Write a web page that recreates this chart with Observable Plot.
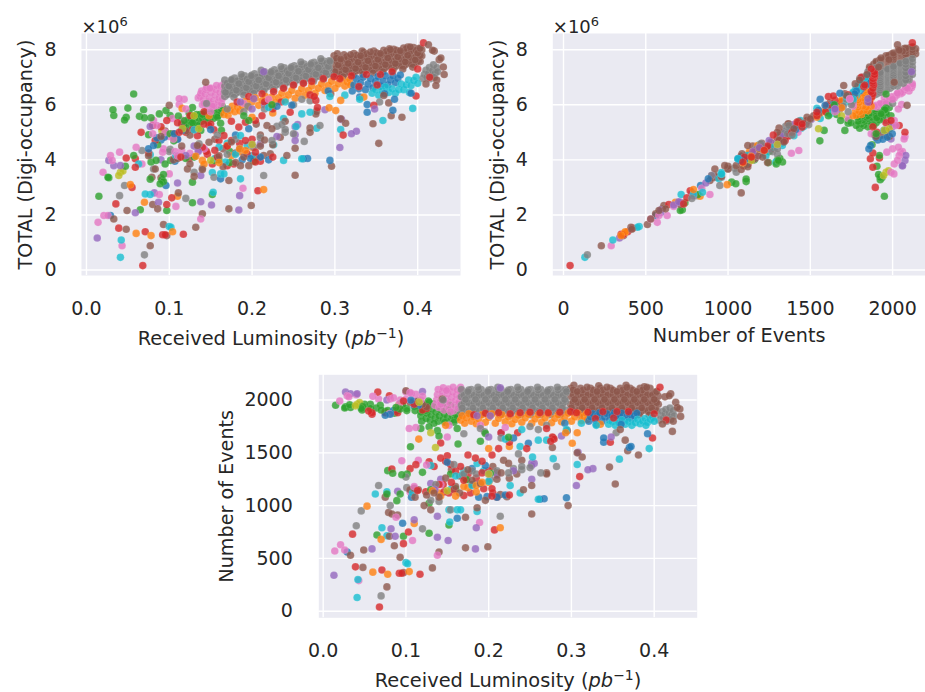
<!DOCTYPE html>
<html><head><meta charset="utf-8">
<script src="https://cdn.jsdelivr.net/npm/d3@7"></script>
<script src="https://cdn.jsdelivr.net/npm/@observablehq/plot@0.6"></script>
<style>
html,body{margin:0;padding:0;background:#fff;width:925px;height:692px;overflow:hidden;position:relative}
.p{position:absolute}
</style></head><body>
<div id="a" class="p" style="left:0;top:0"></div>
<div id="b" class="p" style="left:470px;top:0"></div>
<div id="c" class="p" style="left:210px;top:365px"></div>
<script>
// every row: [received luminosity pb^-1, number of events, TOTAL digi-occupancy x10^6]
const greenBand=[[.118,1850,5.2],[.119,1800,5.15],[.121,1900,5.35],[.122,1960,5.45],[.124,1825,5.25],[.125,1875,5.4],[.126,1940,5.5],[.127,1990,5.6],[.129,1810,5.3],[.130,1860,5.4],[.131,1915,5.55],[.133,1965,5.65],[.135,1830,5.4],[.136,1885,5.5],[.137,1945,5.65],[.139,1800,5.4],[.140,1850,5.5],[.142,1905,5.6],[.143,1960,5.7],[.145,1820,5.45],[.146,1870,5.55],[.148,1925,5.7],[.150,1840,5.55],[.151,1890,5.65],[.153,1800,5.5],[.154,1950,5.8],[.156,1850,5.6],[.157,1905,5.75],[.159,1815,5.6],[.160,1870,5.7],[.162,1835,5.7],[.163,1900,5.85],[.164,1960,5.95],[.128,1980,5.9],[.124,1900,5.7],[.134,1780,5.25],[.147,1790,5.4],[.158,1790,5.55]];
const pinkBand=[[.135,1950,6.25],[.137,2000,6.3],[.138,2050,6.4],[.139,2100,6.5],[.140,1930,6.0],[.141,1980,6.2],[.143,2030,6.4],[.144,2080,6.55],[.145,2115,6.62],[.146,1905,5.92],[.147,1960,6.1],[.148,2010,6.25],[.150,2060,6.45],[.151,2105,6.6],[.152,1925,6.0],[.153,1975,6.15],[.155,2025,6.35],[.156,2075,6.55],[.157,2120,6.7],[.158,1900,5.98],[.159,1950,6.1],[.160,2000,6.25],[.161,2050,6.45],[.162,2095,6.68],[.163,1925,6.05],[.164,1980,6.22],[.165,2030,6.42],[.166,2080,6.62],[.166,2120,6.76],[.142,1960,6.05],[.149,2090,6.6],[.154,1890,5.95]];
const brownBand=[[.299,1885,7.05],[.299,1960,7.28],[.299,2035,7.5],[.299,2110,7.78],[.305,1920,7.15],[.305,1995,7.4],[.305,2070,7.62],[.311,1885,7.12],[.311,1960,7.33],[.311,2035,7.55],[.311,2110,7.82],[.317,1920,7.22],[.317,1995,7.45],[.317,2070,7.68],[.323,1885,7.17],[.323,1960,7.38],[.323,2035,7.62],[.323,2110,7.86],[.329,1920,7.28],[.329,1995,7.5],[.329,2070,7.72],[.335,1885,7.21],[.335,1960,7.43],[.335,2035,7.66],[.335,2110,7.9],[.341,1920,7.33],[.341,1995,7.55],[.341,2070,7.78],[.347,1885,7.26],[.347,1960,7.48],[.347,2035,7.72],[.347,2110,7.95],[.353,1920,7.38],[.353,1995,7.6],[.353,2070,7.84],[.359,1885,7.31],[.359,1960,7.53],[.359,2035,7.76],[.359,2110,7.98],[.365,1920,7.44],[.365,1995,7.66],[.365,2070,7.88],[.371,1885,7.35],[.371,1960,7.58],[.371,2035,7.8],[.371,2110,8.02],[.377,1920,7.5],[.377,1995,7.72],[.377,2070,7.92],[.383,1885,7.41],[.383,1960,7.63],[.383,2035,7.85],[.383,2110,8.06],[.389,1920,7.55],[.389,1995,7.78],[.389,2070,7.98],[.395,1885,7.47],[.395,1960,7.7],[.395,2035,7.9],[.395,2110,8.08],[.401,1920,7.62],[.401,1995,7.84],[.401,2070,8.04],[.405,1960,7.78],[.405,2035,8.0],[.303,2140,7.85],[.333,2135,7.95],[.366,2140,8.03],[.388,2125,8.1]];
const brownFill=[[.302,1900,7.12],[.302,1975,7.34],[.302,2050,7.57],[.302,2095,7.69],[.308,1900,7.15],[.308,1975,7.37],[.308,2050,7.6],[.314,1900,7.18],[.314,1975,7.4],[.314,2050,7.63],[.314,2095,7.75],[.32,1900,7.2],[.32,1975,7.42],[.32,2050,7.65],[.326,1900,7.23],[.326,1975,7.45],[.326,2050,7.68],[.326,2095,7.8],[.332,1900,7.25],[.332,1975,7.47],[.332,2050,7.7],[.338,1900,7.27],[.338,1975,7.49],[.338,2050,7.72],[.338,2095,7.84],[.344,1900,7.3],[.344,1975,7.52],[.344,2050,7.75],[.35,1900,7.32],[.35,1975,7.54],[.35,2050,7.77],[.35,2095,7.89],[.356,1900,7.35],[.356,1975,7.57],[.356,2050,7.8],[.362,1900,7.37],[.362,1975,7.59],[.362,2050,7.82],[.362,2095,7.94],[.368,1900,7.39],[.368,1975,7.61],[.368,2050,7.84],[.374,1900,7.41],[.374,1975,7.63],[.374,2050,7.86],[.374,2095,7.98],[.38,1900,7.44],[.38,1975,7.66],[.38,2050,7.89],[.386,1900,7.47],[.386,1975,7.69],[.386,2050,7.92],[.386,2095,8.04],[.392,1900,7.5],[.392,1975,7.72],[.392,2050,7.95],[.398,1900,7.53],[.398,1975,7.75],[.398,2050,7.98],[.403,1900,7.57],[.403,1975,7.79]];
const brownFill2=[[.3,1925,7.2],[.304,2005,7.45],[.307,2080,7.66],[.31,1860,7.02],[.313,1925,7.28],[.316,2005,7.5],[.319,2120,7.82],[.322,1860,7.07],[.325,1925,7.32],[.328,2005,7.55],[.331,2080,7.78],[.334,1860,7.11],[.337,1925,7.36],[.34,2005,7.6],[.343,2120,7.92],[.346,1860,7.16],[.349,1925,7.41],[.352,2005,7.65],[.355,2080,7.86],[.358,1860,7.2],[.361,1925,7.46],[.364,2005,7.7],[.367,2120,8.0],[.37,1860,7.25],[.373,1925,7.5],[.376,2005,7.74],[.379,2080,7.96],[.382,1860,7.3],[.385,1925,7.56],[.388,2005,7.8],[.391,2120,8.1],[.394,1860,7.37],[.397,1925,7.63],[.4,2005,7.88],[.403,2080,8.05]];
const grayBand=[[.167,1870,6.3],[.167,1950,6.48],[.167,2030,6.68],[.167,2100,6.9],[.173,1905,6.4],[.173,1985,6.6],[.173,2065,6.78],[.179,1870,6.38],[.179,1945,6.56],[.179,2025,6.76],[.179,2100,6.97],[.185,1905,6.48],[.185,1985,6.68],[.185,2065,6.86],[.191,1870,6.46],[.191,1950,6.65],[.191,2030,6.84],[.191,2100,7.05],[.197,1905,6.55],[.197,1985,6.75],[.197,2065,6.93],[.203,1870,6.53],[.203,1945,6.72],[.203,2025,6.92],[.203,2100,7.13],[.209,1905,6.62],[.209,1985,6.82],[.209,2065,7.0],[.215,1870,6.59],[.215,1950,6.79],[.215,2030,6.98],[.215,2100,7.2],[.221,1905,6.69],[.221,1985,6.89],[.221,2065,7.08],[.227,1870,6.67],[.227,1945,6.86],[.227,2025,7.06],[.227,2100,7.27],[.233,1905,6.77],[.233,1985,6.97],[.233,2065,7.16],[.239,1870,6.75],[.239,1950,6.95],[.239,2030,7.14],[.239,2100,7.34],[.245,1905,6.85],[.245,1985,7.05],[.245,2065,7.24],[.251,1870,6.83],[.251,1945,7.02],[.251,2025,7.22],[.251,2100,7.42],[.257,1905,6.93],[.257,1985,7.13],[.257,2065,7.32],[.263,1870,6.9],[.263,1950,7.1],[.263,2030,7.29],[.263,2100,7.48],[.269,1905,7.0],[.269,1985,7.2],[.269,2065,7.38],[.275,1870,6.96],[.275,1945,7.15],[.275,2025,7.35],[.275,2100,7.54],[.281,1905,7.05],[.281,1985,7.25],[.281,2065,7.43],[.287,1870,7.02],[.287,1950,7.22],[.287,2030,7.41],[.287,2100,7.58],[.293,1905,7.12],[.293,1985,7.32],[.293,2065,7.5],[.293,2100,7.6]];
const grayFill=[[.170,1895,6.37],[.170,1970,6.58],[.170,2045,6.79],[.176,1895,6.41],[.176,1970,6.62],[.176,2045,6.83],[.176,2095,6.93],[.182,1895,6.45],[.182,1970,6.66],[.182,2045,6.87],[.188,1895,6.49],[.188,1970,6.7],[.188,2045,6.91],[.188,2095,7.01],[.194,1895,6.52],[.194,1970,6.73],[.194,2045,6.94],[.2,1895,6.56],[.2,1970,6.77],[.2,2045,6.98],[.2,2095,7.08],[.206,1895,6.59],[.206,1970,6.8],[.206,2045,7.01],[.212,1895,6.62],[.212,1970,6.83],[.212,2045,7.04],[.212,2095,7.14],[.218,1895,6.66],[.218,1970,6.87],[.218,2045,7.08],[.224,1895,6.7],[.224,1970,6.91],[.224,2045,7.12],[.224,2095,7.22],[.23,1895,6.74],[.23,1970,6.95],[.23,2045,7.16],[.236,1895,6.78],[.236,1970,6.99],[.236,2045,7.2],[.236,2095,7.3],[.242,1895,6.82],[.242,1970,7.03],[.242,2045,7.24],[.248,1895,6.86],[.248,1970,7.07],[.248,2045,7.28],[.248,2095,7.38],[.254,1895,6.9],[.254,1970,7.11],[.254,2045,7.32],[.26,1895,6.94],[.26,1970,7.15],[.26,2045,7.36],[.26,2095,7.46],[.266,1895,6.97],[.266,1970,7.18],[.266,2045,7.39],[.272,1895,7.0],[.272,1970,7.21],[.272,2045,7.42],[.272,2095,7.52],[.278,1895,7.03],[.278,1970,7.24],[.278,2045,7.45],[.284,1895,7.06],[.284,1970,7.27],[.284,2045,7.48],[.284,2095,7.58],[.29,1895,7.09],[.29,1970,7.3],[.29,2045,7.51]];
const grayFill2=[[.168,1925,6.45],[.172,2005,6.68],[.175,2080,6.9],[.178,1860,6.28],[.181,1925,6.53],[.184,2005,6.77],[.187,2120,7.1],[.19,1860,6.36],[.193,1925,6.62],[.196,2005,6.84],[.199,2080,7.05],[.202,1860,6.42],[.205,1925,6.68],[.208,2005,6.9],[.211,2120,7.25],[.214,1860,6.49],[.217,1925,6.76],[.22,2005,6.98],[.223,2080,7.18],[.226,1860,6.56],[.229,1925,6.82],[.232,2005,7.05],[.235,2120,7.38],[.238,1860,6.64],[.241,1925,6.91],[.244,2005,7.14],[.247,2080,7.34],[.25,1860,6.72],[.253,1925,6.98],[.256,2005,7.22],[.259,2120,7.55],[.262,1860,6.8],[.265,1925,7.05],[.268,2005,7.28],[.271,2080,7.47],[.274,1860,6.86],[.277,1925,7.11],[.28,2005,7.34],[.283,2120,7.67],[.286,1860,6.92],[.289,1925,7.17],[.292,2005,7.39],[.294,2080,7.58]];
const grayTail=[[.406,1810,6.95],[.408,1850,7.1],[.410,1890,7.25],[.411,1830,7.0],[.413,1870,7.15],[.414,1910,7.35],[.415,1800,6.95],[.417,1840,7.05],[.418,1880,7.25],[.419,1925,7.45],[.421,1860,7.15],[.423,1900,7.35],[.424,1850,7.2],[.420,1815,7.0]];
const orangeBand=[[.166,1810,5.65],[.168,1850,5.78],[.171,1780,5.62],[.173,1830,5.8],[.176,1870,5.95],[.179,1800,5.75],[.182,1840,5.92],[.185,1775,5.78],[.188,1820,5.95],[.192,1860,6.12],[.196,1790,5.92],[.200,1835,6.1],[.204,1870,6.25],[.208,1780,5.98],[.212,1825,6.15],[.216,1860,6.3],[.220,1795,6.08],[.224,1840,6.28],[.228,1775,6.08],[.232,1815,6.25],[.236,1855,6.42],[.240,1790,6.18],[.244,1830,6.36],[.248,1865,6.52],[.252,1780,6.24],[.256,1820,6.42],[.260,1860,6.58],[.264,1790,6.35],[.268,1830,6.52],[.272,1870,6.68],[.276,1785,6.42],[.280,1825,6.6],[.284,1860,6.75],[.288,1795,6.52],[.292,1835,6.7],[.296,1875,6.85],[.300,1800,6.6],[.304,1840,6.76],[.308,1875,6.9],[.312,1805,6.68],[.315,1845,6.82],[.318,1870,6.92],[.319,1815,6.72]];
const blueBand=[[.321,1800,6.5],[.323,1840,6.72],[.326,1870,6.95],[.329,1810,6.58],[.331,1850,6.8],[.334,1880,7.0],[.337,1800,6.55],[.340,1840,6.75],[.343,1870,6.95],[.346,1810,6.62],[.349,1850,6.85],[.352,1880,7.03],[.355,1815,6.68],[.358,1845,6.85],[.361,1875,7.05],[.364,1810,6.72],[.367,1845,6.9],[.370,1870,7.05],[.373,1820,6.8],[.376,1850,6.95],[.379,1875,7.08]];
const cyanBand=[[.345,1770,6.42],[.349,1795,6.55],[.353,1760,6.35],[.357,1785,6.5],[.361,1810,6.65],[.365,1770,6.45],[.369,1795,6.58],[.373,1760,6.42],[.377,1785,6.55],[.380,1815,6.75],[.383,1775,6.55],[.386,1800,6.72],[.389,1825,6.9],[.392,1790,6.7],[.395,1815,6.88],[.398,1835,7.0],[.400,1800,6.78],[.390,1760,6.45]];
const redBand=[[.182,1860,6.1],[.196,1875,6.3],[.212,1880,6.4],[.226,1870,6.48],[.238,1880,6.6],[.250,1885,6.72],[.262,1880,6.78],[.272,1880,6.85],[.286,1885,6.95],[.299,1890,7.02],[.306,1880,6.95],[.320,1885,7.05],[.329,1825,6.66],[.338,1890,7.1],[.351,1830,6.72],[.355,1890,7.1],[.369,1890,7.2],[.400,1870,7.3],[.4145,1810,7.0],[.407,2120,8.25]];

const greenPts=[[.015,1950,2.68],[.026,1925,3.37],[.027,1935,3.35],[.047,1905,3.77],[.057,1960,6.39],[.032,1955,5.82],[.033,1930,5.61],[.050,1960,5.88],[.048,1940,5.55],[.046,1920,5.45],[.069,1950,5.82],[.064,1925,5.58],[.070,1905,5.53],[.078,1900,5.53],[.088,1930,5.67],[.096,1950,5.79],[.101,1920,5.61],[.111,1900,5.59],[.075,1890,4.91],[.101,1900,4.95],[.057,1920,4.16],[.093,1915,3.47],[.091,1925,3.28],[.086,1875,4.55],[.118,1885,5.25],[.138,1710,5.07],[.162,1730,5.33],[.128,1747,5.35],[.118,1730,5.42],[.065,722,2.19],[.097,710,2.16],[.128,738,2.44],[.152,817,2.74],[.078,1331,3.92],[.084,1306,3.98],[.095,1293,3.85],[.1015,1300,3.98],[.154,1300,3.98],[.12,1315,4.05],[.077,1110,3.3],[.089,1047,3.13],[.093,1110,3.21],[.128,1022,3.19],[.1055,1558,4.69],[.163,1584,5.07],[.173,1246,3.9],[.173,1250,4.3],[.196,1684,5.43],[.224,1647,6.0],[.202,1306,3.95],[.16,1160,4.0],[.13,1150,4.1],[.14,1660,5.65],[.19,1610,5.6]];
const pinkPts=[[.014,570,1.73],[.021,630,1.98],[.026,580,1.98],[.043,290,.88],[.138,530,1.85],[.108,670,2.31],[.088,890,2.74],[.189,840,2.97],[.04,2050,4.28],[.029,2040,4.16],[.031,2030,3.98],[.02,1990,3.55],[.06,2035,4.46],[.081,2010,5.43],[.092,1965,4.28],[.093,2000,4.4],[.1,2075,4.85],[.112,1740,6.22],[.118,2000,6.2],[.112,2055,6.01],[.12,2035,5.85],[.105,2070,4.76],[.067,2010,3.85],[.1,2008,3.49],[.115,1430,4.34],[.125,1385,4.24],[.095,1425,5.0],[.107,2060,4.3],[.142,1200,4.4],[.19,1760,6.05],[.22,1740,6.2],[.104,1730,5.5],[.152,1760,5.95],[.08,1870,4.95],[.085,2020,5.25],[.115,1950,5.45],[.105,1130,4.05],[.11,1180,4.15],[.135,1170,4.35],[.15,1650,5.75]];
const purplePts=[[.013,340,1.16],[.059,590,2.08],[.087,710,2.46],[.082,780,2.8],[.11,865,3.16],[.138,700,2.48],[.151,670,2.36],[.185,790,2.7],[.184,590,2.18],[.306,1190,4.45],[.308,1505,5.47],[.32,1340,4.95],[.326,1350,5.04],[.348,1650,5.85],[.252,1380,4.91],[.255,1400,5.28],[.252,1250,4.7],[.21,1290,4.58],[.077,2000,5.21],[.033,2060,3.79],[.027,2075,3.98],[.041,2060,3.79],[.11,1990,4.76],[.12,2080,4.16],[.138,900,3.43],[.288,1660,5.82],[.186,1850,6.1],[.202,1850,6.22],[.214,2115,7.2],[.142,1250,4.4],[.09,1135,4.0],[.2,1300,4.55],[.23,1330,4.85],[.252,1400,5.2],[.13,1210,4.5],[.135,1150,4.3],[.2,1650,5.85],[.215,1690,6.0]];
const olivePts=[[.041,1960,3.55],[.039,1945,3.43],[.044,1975,3.6],[.091,1950,5.07],[.116,1980,5.13],[.2,1300,4.56],[.15,1140,3.98],[.1357,1550,5.13],[.13,1690,5.6]];
const bluePts=[[.029,560,1.98],[.081,1866,4.52],[.075,1856,4.4],[.094,1968,4.82],[.106,1998,4.95],[.115,1948,5.07],[.339,1600,5.73],[.339,1640,6.01],[.37,1550,5.8],[.392,1680,6.42],[.294,1075,3.98],[.267,1065,4.05],[.262,1060,4.04],[.188,1080,4.0],[.198,1085,4.05],[.21,1080,4.1],[.162,880,3.31],[.096,833,3.07],[.1068,1080,3.95],[.248,1590,5.98],[.196,1380,5.13],[.33,1770,6.28],[.36,1770,6.4],[.372,1560,6.2],[.18,1350,4.9],[.15,1410,5.1],[.292,1780,6.5],[.22,1100,4.0],[.23,1640,5.95],[.085,1900,4.8],[.09,1910,4.72],[.11,1940,4.75]];
const cyanPts=[[.041,130,.46],[.042,300,1.09],[.1,460,1.58],[.102,450,1.55],[.071,790,2.76],[.077,715,2.74],[.153,845,2.82],[.186,945,3.31],[.152,960,3.54],[.162,960,3.49],[.166,960,3.49],[.238,1120,3.98],[.26,1060,4.04],[.307,1390,5.1],[.394,1540,5.87],[.358,1440,5.43],[.26,1620,5.67],[.27,1620,5.73],[.238,1560,5.5],[.278,1445,5.15],[.253,1460,5.21],[.226,1190,4.55],[.16,1280,4.46],[.13,1380,5.09],[.186,1400,4.88],[.194,1330,4.52],[.108,1120,4.16],[.077,1130,4.19],[.063,1110,3.85],[.294,1720,6.3],[.312,1780,6.35],[.33,1760,6.2],[.168,1290,3.92],[.17,1330,4.6],[.155,1160,4.05],[.18,1190,4.2],[.2,1230,4.15],[.22,1630,5.9],[.24,1720,6.1]];
const orangePts=[[.06,370,1.33],[.078,350,1.25],[.104,375,1.39],[.07,680,2.46],[.053,995,3.1],[.11,830,2.68],[.214,790,2.92],[.132,1140,4.13],[.14,1120,3.98],[.142,1090,3.85],[.192,1220,4.34],[.17,1180,4.52],[.301,1590,5.79],[.293,1690,5.89],[.307,1690,6.16],[.335,1770,6.28],[.1155,1630,5.87],[.148,1760,5.6],[.2,1220,4.46],[.185,1190,4.4],[.16,1090,3.9],[.175,1170,4.15],[.185,1130,4.3],[.2,1540,5.55],[.225,1560,5.7]];
const grayPts=[[.07,145,.55],[.04,810,2.7],[.046,950,3.07],[.12,780,2.6],[.214,900,3.43],[.263,1310,4.67],[.282,1370,5.25],[.154,960,3.37],[.101,1170,4.38],[.067,1190,4.34],[.081,1000,3.67],[.136,1200,4.58],[.236,1490,5.28],[.224,1310,4.7],[.24,1340,5.0],[.354,1690,6.1],[.17,1680,5.85],[.202,1250,4.46],[.158,1390,4.9],[.185,1300,4.4],[.1,1270,4.3],[.23,1350,5.22],[.25,1360,4.95],[.19,1730,5.75],[.27,1760,6.15],[.25,1750,6.0],[.145,2000,6.05],[.13,1050,3.55],[.14,1040,3.7],[.17,1300,4.2],[.18,1330,4.75],[.21,1330,4.8],[.24,1370,5.1],[.195,1700,5.95],[.215,1640,5.85],[.26,1720,6.2]];
const brownPts=[[.252,920,3.44],[.296,1000,3.77],[.353,1205,4.6],[.346,1365,5.31],[.381,1480,5.55],[.368,1520,5.6],[.365,1620,6.07],[.359,1720,6.34],[.307,1500,5.49],[.313,1460,5.33],[.27,1300,5.0],[.27,1310,5.16],[.242,1150,4.16],[.252,1190,4.42],[.222,1085,4.22],[.214,1105,4.16],[.196,1050,3.79],[.186,980,3.79],[.172,600,2.22],[.199,610,2.34],[.132,410,1.55],[.14,560,2.04],[.077,230,.88],[.048,415,1.48],[.033,530,1.85],[.049,580,2.16],[.08,710,2.38],[.086,620,2.22],[.093,510,1.65],[.097,365,1.25],[.111,1080,2.8],[.079,935,3.37],[.083,920,3.67],[.122,1000,3.67],[.144,2010,6.82],[.1,2088,5.98],[.134,1120,4.52],[.148,1260,4.64],[.224,1400,5.13],[.218,1430,5.25],[.234,1300,4.82],[.277,1550,5.67],[.278,1640,5.77],[.418,2040,7.98],[.426,1978,7.64],[.431,1915,7.37],[.432,1845,7.1],[.422,1703,6.7],[.41,1773,6.76],[.413,2030,8.18],[.42,2060,7.95],[.428,1930,7.7],[.423,1800,6.9],[.172,890,3.25],[.18,1240,3.9],[.09,910,3.35],[.115,1150,4.5],[.075,1080,4.15],[.205,1370,5.3],[.21,1310,4.9],[.16,1180,4.15],[.24,1430,5.4],[.295,1710,6.4],[.155,1340,4.75],[.165,1280,4.4],[.175,1340,4.65],[.18,1200,4.25],[.19,1210,4.1],[.21,1250,4.5],[.215,1310,4.72],[.225,1260,4.55],[.165,1120,3.75],[.14,1080,3.65],[.13,960,3.4],[.125,1100,3.85],[.09,1900,4.85],[.095,1960,5.05],[.115,1995,5.3],[.12,1960,5.05],[.105,1980,4.85],[.125,1935,4.9],[.11,1165,4.05],[.105,1150,4.0]];
const redPts=[[.068,40,.16],[.039,420,1.52],[.071,390,1.39],[.092,360,1.28],[.095,360,1.28],[.117,350,1.3],[.0355,730,2.4],[.055,1895,3.0],[.097,640,2.38],[.103,750,2.62],[.207,770,2.88],[.059,1865,4.04],[.059,1880,3.73],[.048,1920,4.07],[.066,2075,5.0],[.097,1990,5.43],[.146,1130,4.2],[.152,1120,3.85],[.158,1150,4.1],[.14,1200,4.46],[.134,1370,4.88],[.142,1450,5.3],[.148,1420,5.25],[.154,1390,5.09],[.166,1370,4.88],[.17,1095,3.79],[.178,1120,3.85],[.184,1450,5.19],[.192,1420,5.37],[.192,1310,4.7],[.194,1160,4.22],[.204,1160,4.28],[.204,1090,3.92],[.204,1480,5.43],[.27,1730,6.36],[.31,1275,4.9],[.398,1640,6.32],[.347,1600,5.98],[.277,1650,6.16],[.279,1630,5.9],[.246,1540,5.73],[.083,1347,4.7],[.112,1388,5.0],[.128,1416,5.1],[.142,1593,5.75],[.15,1473,5.3],[.114,1142,4.1],[.124,1132,4.05],[.175,1480,5.4],[.215,1690,6.1],[.205,1120,4.1],[.212,1540,5.6],[.225,1600,5.85],[.235,1690,6.1],[.275,1610,6.3],[.16,1330,4.7],[.125,1920,5.6],[.08,2040,5.25],[.09,1880,5.2],[.145,1200,4.3],[.155,1220,4.35],[.17,1240,4.5],[.175,1300,4.7],[.185,1260,4.6],[.2,1330,4.75],[.21,1080,3.95],[.225,1100,4.1],[.11,1960,5.35],[.12,1905,5.0],[.075,1880,4.25],[.105,1350,4.95]];

const seriesNames=["C0","C1","C2","C3","C4","C5","C6","C7","C8","C9"];
const seriesColors=["#1f77b4","#ff7f0e","#2ca02c","#d62728","#9467bd","#8c564b","#e377c2","#7f7f7f","#bcbd22","#17becf"];
const bandOrder=[
 ["C2",greenBand],["C6",pinkBand],["C5",brownBand],["C5",brownFill],["C5",brownFill2],["C7",grayBand],["C7",grayFill],["C7",grayFill2],["C7",grayTail],
 ["C1",orangeBand],["C0",blueBand],["C9",cyanBand],["C3",redBand]];
const scatterOrder=[
 ["C2",greenPts],["C6",pinkPts],["C4",purplePts],["C8",olivePts],["C0",bluePts],
 ["C9",cyanPts],["C1",orangePts],["C7",grayPts],["C5",brownPts],["C3",redPts]];
const toRows=list=>list.flatMap(([s,a])=>a.map(d=>({s,lumi:d[0],events:d[1],total:d[2]})));
// scattered points are mixed so that no single colour always lies on top
const overlap=d=>Math.round(d.events*7+d.total*131)%97;
const rows=[...toRows(bandOrder),...d3.sort(toRows(scatterOrder),overlap)];

const lumiTicks=[0,.1,.2,.3,.4], eventTicks=[0,500,1000,1500,2000], totalTicks=[0,2,4,6,8];
const lumiLabel="Received Luminosity (pb⁻¹)";

function panel(el,o){
  const fig=Plot.plot({
    width:o.w,height:o.h,marginLeft:o.ml,marginRight:o.mr,marginTop:o.mt,marginBottom:o.mb,
    style:{fontFamily:"'DejaVu Sans',sans-serif",color:"#262626",background:"transparent",overflow:"visible"},
    x:{domain:o.xd},y:{domain:o.yd},
    color:{domain:seriesNames,range:seriesColors},
    marks:[
      Plot.frame({fill:"#eaeaf2",stroke:null}),
      Plot.gridX(o.xt,{stroke:"white",strokeOpacity:1,strokeWidth:1.4}),
      Plot.gridY(o.yt,{stroke:"white",strokeOpacity:1,strokeWidth:1.4}),
      Plot.axisX(o.xt,{tickSize:0,tickPadding:o.xpad,tickFormat:o.xf,label:o.xl,labelAnchor:"center",labelArrow:"none",labelOffset:o.xo}),
      Plot.axisY(o.yt,{tickSize:0,tickPadding:o.ypad,tickFormat:d=>String(d),label:o.yl,labelAnchor:"center",labelArrow:"none",labelOffset:o.yo}),
      Plot.dot(rows,{x:o.xk,y:o.yk,fill:"s",r:3.8,fillOpacity:.8,stroke:"white",strokeWidth:.2,strokeOpacity:.6,style:{filter:"blur(.35px)"}}),
      o.note?Plot.text([o.note],{frameAnchor:"top-left",dy:-13,dx:0,textAnchor:"start"}):null
    ]
  });
  d3.select(fig).selectAll("text").each(function(){
    const t=this.textContent, s=d3.select(this);
    s.style("font-size","19px");
    if(t.startsWith("Received Luminosity")){
      s.style("font-size","19.4px").html('Received Luminosity (<tspan font-style="italic">pb</tspan><tspan dy="-7" font-size="14">−1</tspan><tspan dy="7">)</tspan>');
    } else if(t==="Number of Events"||t==="TOTAL (Digi-occupancy)"){
      s.style("font-size","19.2px");
    } else if(t==="×10⁶"){
      s.style("font-size","18px").html('×10<tspan dy="-7" font-size="13">6</tspan>');
    }
  });
  el.appendChild(fig);
}
const f1=d=>d.toFixed(1), f0=d=>String(d);
panel(document.getElementById("a"),{w:465,h:350,ml:81,mr:5,mt:33,mb:75,xd:[-.006,.4517],yd:[-.2,8.59],xt:lumiTicks,yt:totalTicks,xf:f1,xk:"lumi",yk:"total",xl:lumiLabel,yl:"TOTAL (Digi-occupancy)",xpad:26,ypad:25,xo:69,yo:63,note:"×10⁶"});
panel(document.getElementById("b"),{w:455,h:350,ml:82.3,mr:0,mt:33,mb:75,xd:[-65,2200],yd:[-.2,8.59],xt:eventTicks,yt:totalTicks,xf:f0,xk:"events",yk:"total",xl:"Number of Events",yl:"TOTAL (Digi-occupancy)",xpad:26,ypad:25,xo:66,yo:62,note:"×10⁶"});
panel(document.getElementById("c"),{w:490,h:327,ml:108.3,mr:3.3,mt:9.3,mb:74.7,xd:[-.0053,.452],yd:[-62.5,2239],xt:lumiTicks,yt:eventTicks,xf:f1,xk:"lumi",yk:"events",xl:lumiLabel,yl:"Number of Events",xpad:26,ypad:26,xo:69,yo:99});
</script>
</body></html>
